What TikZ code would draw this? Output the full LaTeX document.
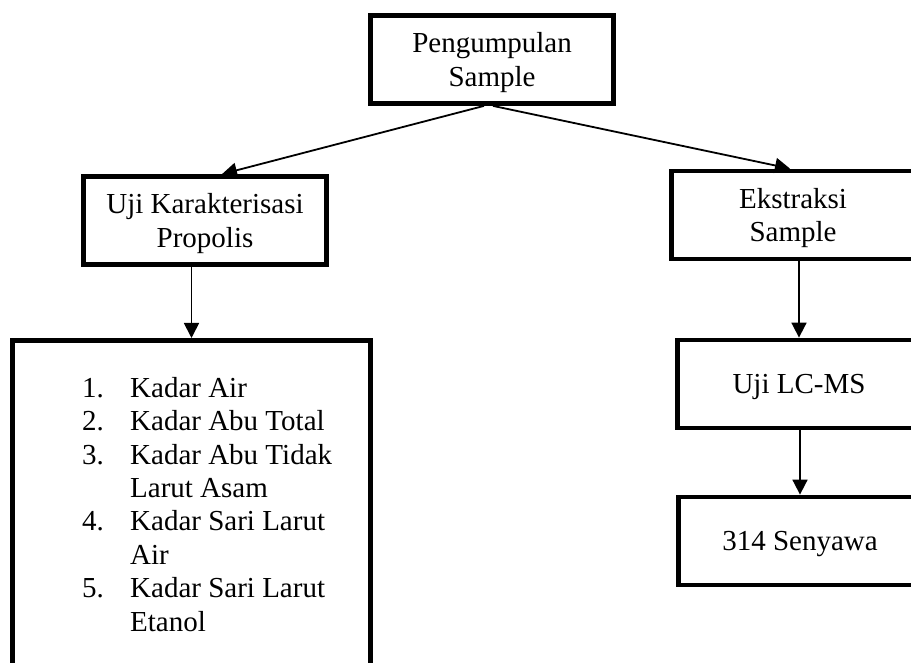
\documentclass[tikz,border=0pt]{standalone}
\usepackage{fontspec}
\setmainfont{Liberation Serif}
\usetikzlibrary{arrows.meta}
\begin{document}
\begin{tikzpicture}[x=1pt,y=-1pt,
box/.style={draw,line width=4.8pt,minimum width=243pt,minimum height=88pt,align=center,inner sep=0pt,text depth=-3.7pt,font=\fontsize{29}{33.5}\selectfont},
arr/.style={line width=1.8pt,-{Triangle[length=15pt,width=15pt]}}]
\useasboundingbox(0,0)rectangle(911,663);
\clip(0,0)rectangle(911,663);
\node[box](sample)at(492,59.5){Pengumpulan\\Sample};
\node[box](char)at(205,220.5){Uji Karakterisasi\\Propolis};
\node[box](ext)at(793,215){Ekstraksi\\Sample};
\node[box](lcms)at(799,384){Uji LC-MS};
\node[box](sen)at(800,541){314 Senyawa};
\node[box,minimum width=358pt,minimum height=360pt,anchor=north](list)at(191.5,338){};
\node[anchor=base west,inner sep=0pt,font=\fontsize{29}{33.5}\selectfont](items)at(82,397){%
\begin{tabular}[t]{@{}p{48pt}@{}l@{}}
1.&Kadar Air\\
2.&Kadar Abu Total\\
3.&Kadar Abu Tidak\\
&Larut Asam\\
4.&Kadar Sari Larut\\
&Air\\
5.&Kadar Sari Larut\\
&Etanol
\end{tabular}};
\draw[arr]([xshift=-8pt]sample.south)--([xshift=17pt]char.north);
\draw[arr]([xshift=1pt]sample.south)--([xshift=-3pt]ext.north);
\draw[arr](list.north|-char.south)--(list.north);
\draw[arr](lcms.north|-ext.south)--(lcms.north);
\draw[arr](sen.north|-lcms.south)--(sen.north);
\end{tikzpicture}
\end{document}
